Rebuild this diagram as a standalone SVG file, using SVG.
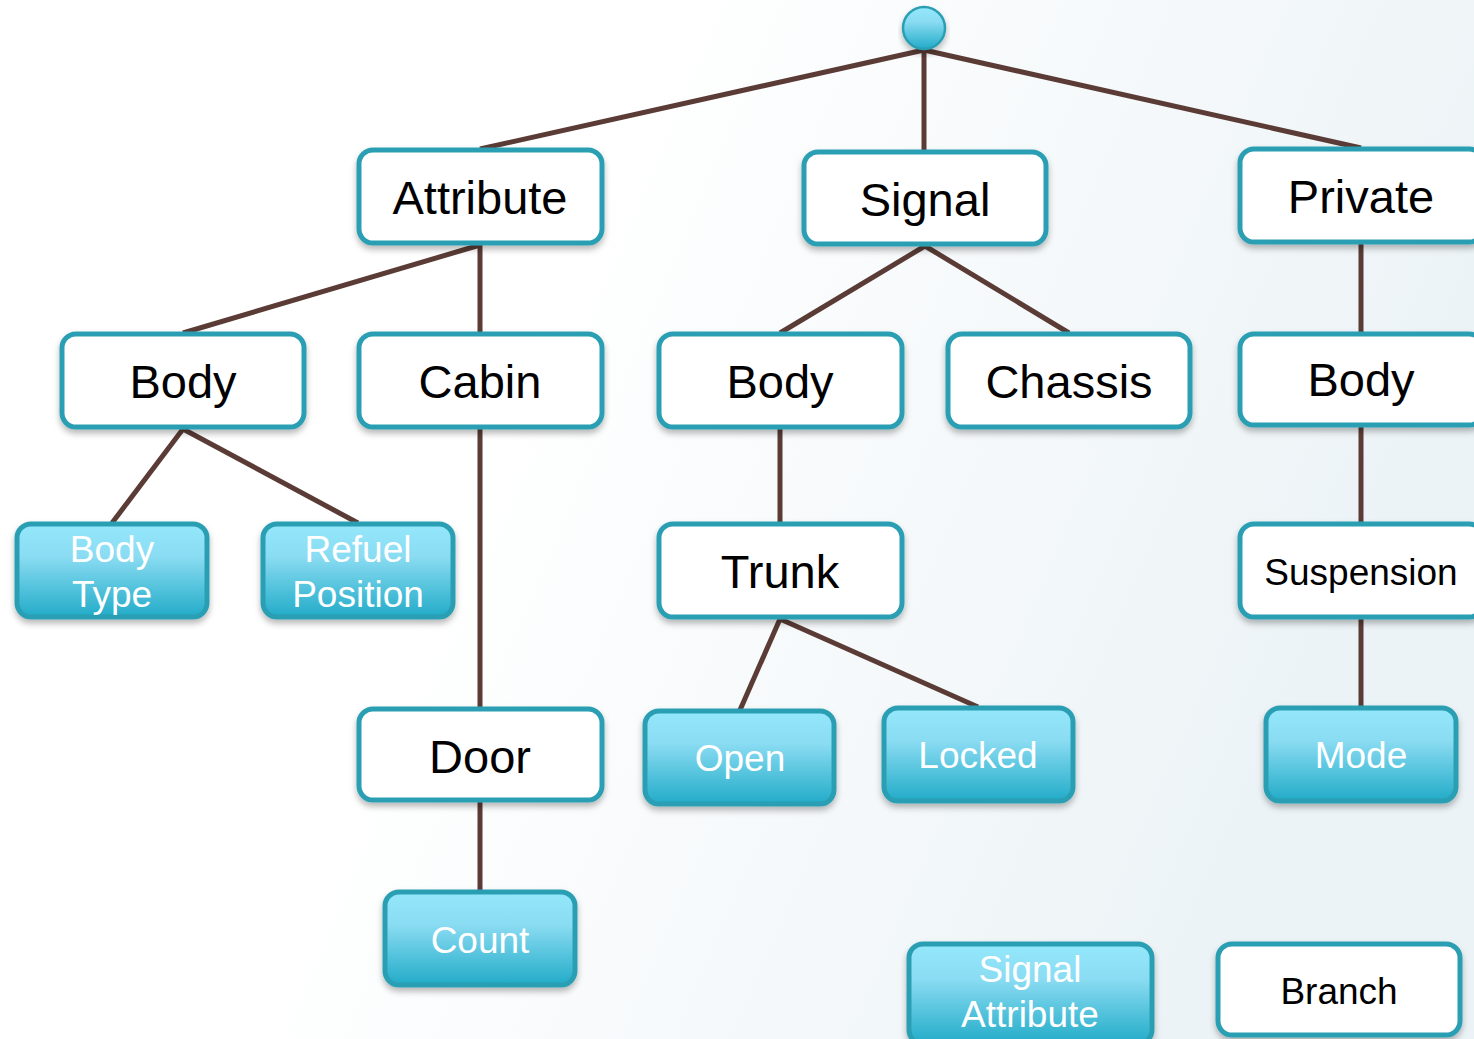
<svg xmlns="http://www.w3.org/2000/svg" width="1474" height="1039" viewBox="0 0 1474 1039">
  <defs>
    <linearGradient id="bg" x1="0" y1="0" x2="1" y2="0.3">
      <stop offset="0" stop-color="#ffffff"/>
      <stop offset="0.42" stop-color="#ffffff"/>
      <stop offset="1" stop-color="#ecf3f6"/>
    </linearGradient>
    <linearGradient id="leaf" x1="0" y1="0" x2="0" y2="1">
      <stop offset="0" stop-color="#95e7fc"/>
      <stop offset="0.35" stop-color="#8adcf2"/>
      <stop offset="1" stop-color="#22abc8"/>
    </linearGradient>
    <filter id="shadow" x="-10%" y="-10%" width="120%" height="130%">
      <feDropShadow dx="0" dy="4" stdDeviation="3" flood-color="#000" flood-opacity="0.28"/>
    </filter>
  </defs>
  <style>
    .box { fill: #ffffff; stroke: #2a9fb3; stroke-width: 5; filter: url(#shadow); }
    .leaf { fill: url(#leaf); stroke: #2a9fb3; stroke-width: 5; filter: url(#shadow); }
    .big { font-family: "Liberation Sans", Arial, sans-serif; font-size: 47px; fill: #000; text-anchor: middle; }
    .mid { font-family: "Liberation Sans", Arial, sans-serif; font-size: 37px; fill: #000; text-anchor: middle; }
    .wt { font-family: "Liberation Sans", Arial, sans-serif; font-size: 37px; fill: #ffffff; text-anchor: middle; }
    .edge { stroke: #5a3b35; stroke-width: 5; fill: none; stroke-linecap: butt; }
  </style>

  <rect width="1474" height="1039" fill="url(#bg)"/>

  <!-- tree links -->
  <g id="connectors">
    <line class="edge" x1="924" y1="50" x2="480" y2="149"/>
    <line class="edge" x1="924" y1="50" x2="924" y2="151"/>
    <line class="edge" x1="924" y1="50" x2="1361" y2="148"/>
    <line class="edge" x1="480" y1="245" x2="183" y2="333"/>
    <line class="edge" x1="480" y1="245" x2="480" y2="333"/>
    <line class="edge" x1="925" y1="246" x2="780" y2="333"/>
    <line class="edge" x1="925" y1="246" x2="1069" y2="333"/>
    <line class="edge" x1="1361" y1="244" x2="1361" y2="333"/>
    <line class="edge" x1="183" y1="429" x2="112" y2="523"/>
    <line class="edge" x1="183" y1="429" x2="358" y2="523"/>
    <line class="edge" x1="480" y1="429" x2="480" y2="708"/>
    <line class="edge" x1="780" y1="429" x2="780" y2="523"/>
    <line class="edge" x1="780" y1="619" x2="740" y2="710"/>
    <line class="edge" x1="780" y1="619" x2="978" y2="707"/>
    <line class="edge" x1="1361" y1="427" x2="1361" y2="523"/>
    <line class="edge" x1="1361" y1="619" x2="1361" y2="707"/>
    <line class="edge" x1="480" y1="802" x2="480" y2="891"/>
  </g>

  <g id="root">
    <circle cx="924" cy="28" r="21" fill="url(#leaf)" stroke="#2a9fb3" stroke-width="2.5" filter="url(#shadow)"/>
  </g>

  <g id="attribute">
    <rect class="box" x="359" y="150" width="243" height="93" rx="14"/>
    <text class="big" x="480" y="214">Attribute</text>
  </g>
  <g id="signal">
    <rect class="box" x="804" y="152" width="242" height="92" rx="14"/>
    <text class="big" x="925" y="216">Signal</text>
  </g>
  <g id="private">
    <rect class="box" x="1240" y="149" width="243" height="93" rx="14"/>
    <text class="big" x="1361" y="213">Private</text>
  </g>

  <g id="attr-body">
    <rect class="box" x="62" y="334" width="242" height="93" rx="14"/>
    <text class="big" x="183" y="398">Body</text>
  </g>
  <g id="cabin">
    <rect class="box" x="359" y="334" width="243" height="93" rx="14"/>
    <text class="big" x="480" y="398">Cabin</text>
  </g>
  <g id="signal-body">
    <rect class="box" x="659" y="334" width="243" height="93" rx="14"/>
    <text class="big" x="780" y="398">Body</text>
  </g>
  <g id="chassis">
    <rect class="box" x="948" y="334" width="242" height="93" rx="14"/>
    <text class="big" x="1069" y="398">Chassis</text>
  </g>
  <g id="private-body">
    <rect class="box" x="1240" y="334" width="243" height="91" rx="14"/>
    <text class="big" x="1361" y="396">Body</text>
  </g>

  <g id="body-type">
    <rect class="leaf" x="17" y="524" width="190" height="93" rx="14"/>
    <text class="wt" x="112" y="562">Body</text>
    <text class="wt" x="112" y="607">Type</text>
  </g>
  <g id="refuel-position">
    <rect class="leaf" x="263" y="524" width="190" height="93" rx="14"/>
    <text class="wt" x="358" y="562">Refuel</text>
    <text class="wt" x="358" y="607">Position</text>
  </g>
  <g id="trunk">
    <rect class="box" x="659" y="524" width="243" height="93" rx="14"/>
    <text class="big" x="780" y="588">Trunk</text>
  </g>
  <g id="suspension">
    <rect class="box" x="1240" y="524" width="243" height="93" rx="14"/>
    <text class="mid" x="1361" y="585">Suspension</text>
  </g>

  <g id="door">
    <rect class="box" x="359" y="709" width="243" height="91" rx="14"/>
    <text class="big" x="480" y="773">Door</text>
  </g>
  <g id="open">
    <rect class="leaf" x="645" y="711" width="189" height="93" rx="14"/>
    <text class="wt" x="740" y="771">Open</text>
  </g>
  <g id="locked">
    <rect class="leaf" x="884" y="708" width="189" height="93" rx="14"/>
    <text class="wt" x="978" y="768">Locked</text>
  </g>
  <g id="mode">
    <rect class="leaf" x="1266" y="708" width="190" height="93" rx="14"/>
    <text class="wt" x="1361" y="768">Mode</text>
  </g>

  <g id="count">
    <rect class="leaf" x="385" y="892" width="190" height="93" rx="14"/>
    <text class="wt" x="480" y="953">Count</text>
  </g>

  <g id="legend-signal-attribute">
    <rect class="leaf" x="909" y="944" width="243" height="100" rx="14"/>
    <text class="wt" x="1030" y="982">Signal</text>
    <text class="wt" x="1030" y="1027">Attribute</text>
  </g>
  <g id="legend-branch">
    <rect class="box" x="1218" y="944" width="242" height="91" rx="14"/>
    <text class="mid" x="1339" y="1004">Branch</text>
  </g>
</svg>
